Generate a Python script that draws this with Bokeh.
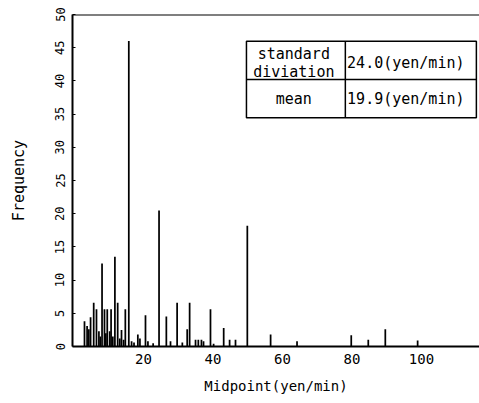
from bokeh.plotting import figure
from bokeh.models import Span, FixedTicker, Range1d
from bokeh.core.properties import value
from bokeh.embed import file_html
from bokeh.resources import INLINE

# Histogram data (midpoint in yen/min, frequency)
midpoints = [3.05, 3.8, 4.3, 4.8, 5.7, 6.5, 7.2, 7.6, 8.1, 8.8, 9.2, 9.6, 10.3, 10.7,
             11.2, 11.8, 12.6, 13.2, 13.7, 14.3, 14.8, 15.8, 16.6, 17.3, 18.4, 19.0,
             20.6, 21.3, 22.8, 24.5, 26.6, 27.8, 29.7, 31.2, 32.6, 33.3, 35.0, 35.8,
             36.7, 37.3, 39.3, 40.2, 43.1, 44.8, 46.5, 49.9, 56.6, 64.2, 79.8, 84.7,
             89.6, 98.9]
frequency = [3.8, 3.1, 2.6, 4.4, 6.6, 5.6, 2.3, 1.5, 12.5, 5.6, 2.0, 5.6, 2.3, 5.6,
             1.5, 13.5, 6.6, 1.2, 2.5, 1.0, 5.6, 46.0, 0.8, 0.6, 1.8, 1.2,
             4.7, 0.8, 0.5, 20.5, 4.5, 0.8, 6.6, 0.6, 2.6, 6.6, 1.0, 1.0,
             1.0, 0.8, 5.6, 0.4, 2.8, 1.0, 1.0, 18.2, 1.8, 0.8, 1.7, 1.0,
             2.6, 0.9]

x_ticks = [20, 40, 60, 80, 100]
y_ticks = [0, 5, 10, 15, 20, 25, 30, 35, 40, 45, 50]

table_labels = ["standard", "diviation", "mean"]
table_values = ["24.0(yen/min)", "19.9(yen/min)"]

MONO = "DejaVu Sans Mono"

p = figure(width=479, height=403, output_backend="svg", toolbar_location=None,
           x_range=Range1d(-0.4, 116.7), y_range=Range1d(0, 50),
           min_border_left=72, min_border_right=0, min_border_top=14,
           min_border_bottom=57)

p.vbar(x=midpoints, top=frequency, width=0.5, fill_color="black", line_color=None)

p.xgrid.visible = False
p.ygrid.visible = False
p.outline_line_color = None
p.background_fill_color = "white"
p.border_fill_color = "white"

# x axis
p.xaxis.ticker = FixedTicker(ticks=x_ticks)
p.xaxis.minor_tick_line_color = None
p.xaxis.major_tick_out = 0
p.xaxis.major_tick_in = 0
p.xaxis.axis_line_width = 2
p.xaxis.axis_line_color = "black"
p.xaxis.major_label_text_font = MONO
p.xaxis.major_label_text_font_size = "14px"
p.xaxis.major_label_text_color = "black"
p.xaxis.major_label_standoff = 7
p.xaxis.axis_label = "Midpoint(yen/min)"
p.xaxis.axis_label_text_font = MONO
p.xaxis.axis_label_text_font_size = "14px"
p.xaxis.axis_label_text_font_style = "normal"
p.xaxis.axis_label_text_color = "black"
p.xaxis.axis_label_standoff = 11

# y axis
p.yaxis.ticker = FixedTicker(ticks=y_ticks)
p.yaxis.minor_tick_line_color = None
p.yaxis.major_tick_out = 0
p.yaxis.major_tick_in = 3
p.yaxis.axis_line_width = 2
p.yaxis.axis_line_color = "black"
p.yaxis.major_label_orientation = "parallel"
p.yaxis.major_label_text_font = MONO
p.yaxis.major_label_text_font_size = "12px"
p.yaxis.major_label_text_color = "black"
p.yaxis.major_label_standoff = 8
p.yaxis.axis_label = "Frequency"
p.yaxis.axis_label_text_font = MONO
p.yaxis.axis_label_text_font_size = "15px"
p.yaxis.axis_label_text_font_style = "normal"
p.yaxis.axis_label_text_color = "black"
p.yaxis.axis_label_standoff = 25

# top frame line
p.add_layout(Span(location=50, dimension="width", line_color="black", line_width=2))

# statistics table
tl, tr, tdiv = 49.65, 115.8, 78.1
tt, tm, tb = 45.97, 40.2, 34.46
p.quad(left=[tl], right=[tr], top=[tt], bottom=[tb], fill_color="white",
       line_color="black", line_width=1.5)
p.segment(x0=[tl, tdiv], y0=[tm, tt], x1=[tr, tdiv], y1=[tm, tb],
          line_color="black", line_width=1.5)
cx = (tl + tdiv) / 2 - 0.6
p.text(x=[cx, cx, cx], y=[44.1, 41.4, 37.2], text=table_labels,
       text_font=value(MONO), text_font_size="15px", text_align="center",
       text_baseline="middle", text_color="black")
p.text(x=[tdiv + 0.5, tdiv + 0.5], y=[42.7, 37.2], text=table_values,
       text_font=value(MONO), text_font_size="15px", text_align="left",
       text_baseline="middle", text_color="black")

open("out.html", "w").write(file_html(p, INLINE))
